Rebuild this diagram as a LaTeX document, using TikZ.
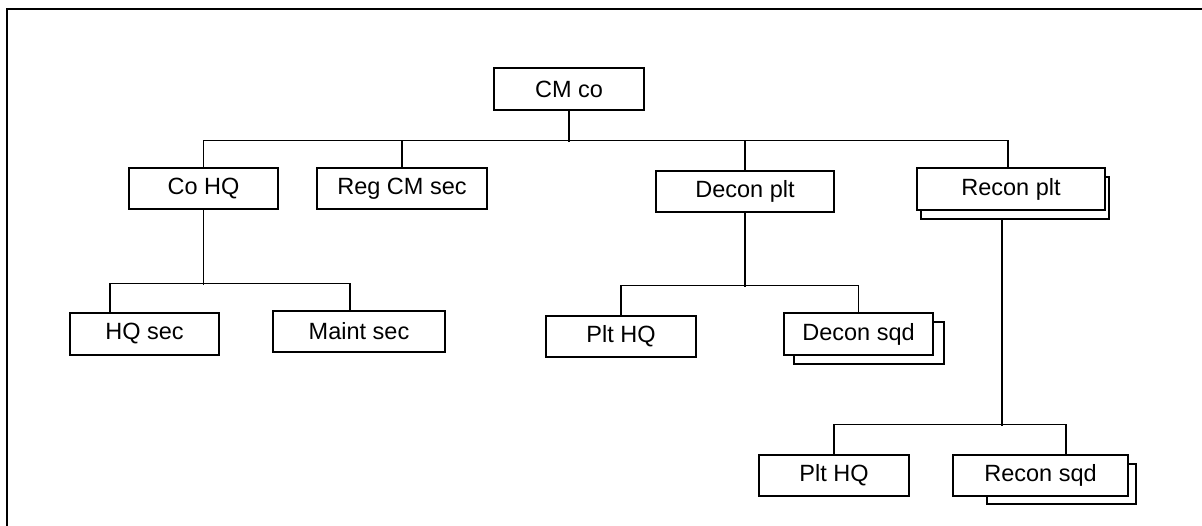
\documentclass[tikz,border=0pt]{standalone}
\usepackage{fontspec}
\setmainfont{Liberation Sans}
\usepackage{tikz}

\begin{document}
\begin{tikzpicture}[x = 1pt, y = -1pt,
unit/.style = {draw, line width = 1.2pt, fill = white, inner sep = 0pt, minimum height = 41pt, font = \fontsize{23.5}{28}\selectfont},
stack/.style = {draw, line width = 1.2pt, fill = white},
link/.style = {draw, line width = 1.2pt}]
\useasboundingbox (0,0) rectangle (1202,525);
\draw[line width = 2.5pt] (7,530) -- (7,9) -- (1210,9);
\foreach \xa / \ya / \xb / \yb in {921/177/1109/219, 794/322/944/364, 987/464/1136/504}
{
	\draw[stack] (\xa,\ya) rectangle (\xb,\yb);
}
\node[unit, minimum width = 150pt, minimum height = 42pt] (cmco) at (569,89) {CM co};
\node[unit, minimum width = 149pt] (cohq) at (203.5,188.5) {Co HQ};
\node[unit, minimum width = 170pt] (regcm) at (402,188.5) {Reg CM sec};
\node[unit, minimum width = 178pt] (deconplt) at (745,191.5) {Decon plt};
\node[unit, minimum width = 188pt, minimum height = 42pt] (reconplt) at (1011,189) {Recon plt};
\node[unit, minimum width = 149pt, minimum height = 42pt] (hqsec) at (144.5,334) {HQ sec};
\node[unit, minimum width = 172pt] (maintsec) at (359,331.5) {Maint sec};
\node[unit, minimum width = 150pt] (dplthq) at (621,336.5) {Plt HQ};
\node[unit, minimum width = 149pt, minimum height = 42pt] (deconsqd) at (858.5,334) {Decon sqd};
\node[unit, minimum width = 150pt] (rplthq) at (834,475.5) {Plt HQ};
\node[unit, minimum width = 175pt] (reconsqd) at (1040.5,475.5) {Recon sqd};
\draw[link] (cmco.south) -- ++(0,31);
\draw[link] (cohq.north) -- ++(0,-27) -| ([xshift = -3pt]reconplt.north);
\draw[link] (regcm.north) -- ++(0,-27);
\draw[link] (deconplt.north) -- ++(0,-30);
\draw[link] (cohq.south) -- ++(0,75);
\draw[link] ([xshift = -34.5pt]hqsec.north) -- ++(0,-29) -| ([xshift = -9pt]maintsec.north);
\draw[link] (deconplt.south) -- ++(0,74);
\draw[link] (dplthq.north) -- ++(0,-30) -| (deconsqd.north);
\draw[link] ([xshift = -9pt, yshift = -9pt]reconplt.south) -- ++(0,206);
\draw[link] (rplthq.north) -- ++(0,-30) -| ([xshift = 25.5pt]reconsqd.north);
\end{tikzpicture}
\end{document}
